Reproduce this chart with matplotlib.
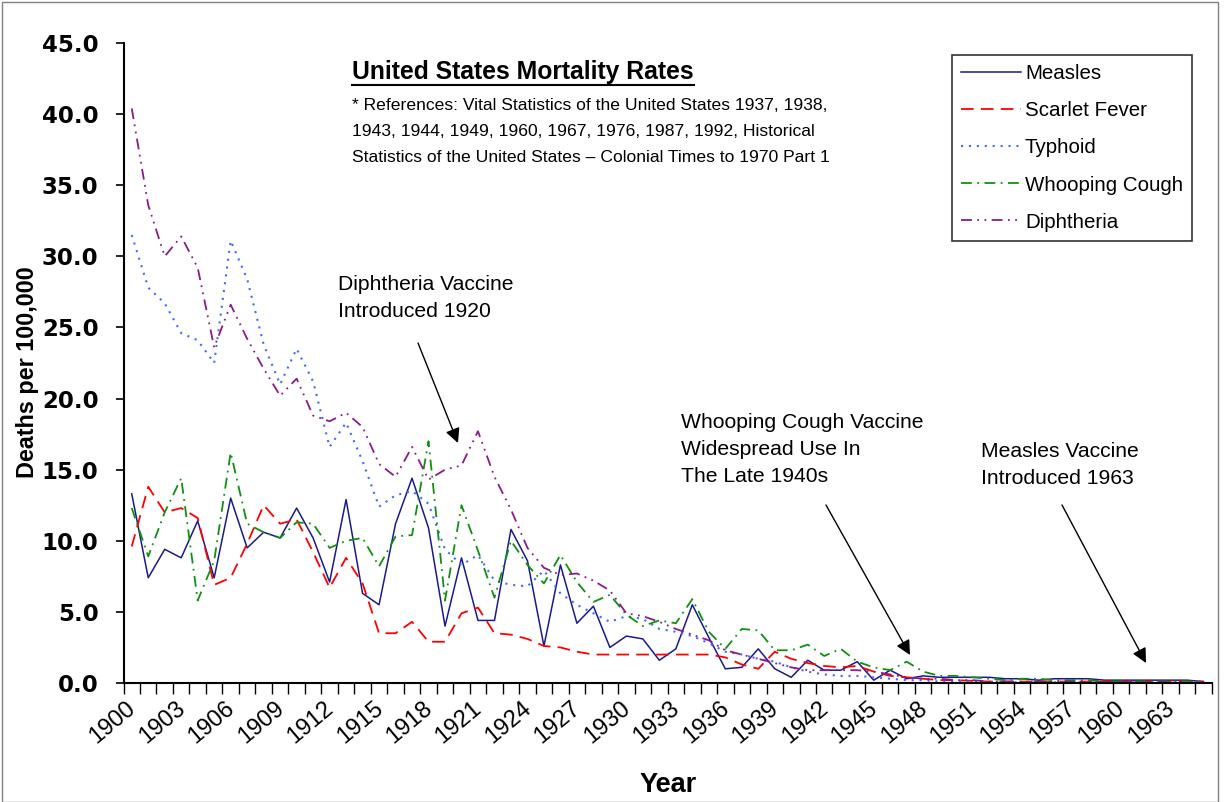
import matplotlib
matplotlib.use('Agg')
import matplotlib.pyplot as plt
from matplotlib.lines import Line2D
from matplotlib.transforms import ScaledTranslation
import numpy as np

plt.rcParams['font.family'] = ['Liberation Sans', 'DejaVu Sans']

years = list(range(1900, 1966))

measles = [13.3, 7.4, 9.4, 8.8, 11.4, 7.4, 13.0, 9.5, 10.6, 10.2,
           12.3, 10.2, 7.1, 12.9, 6.3, 5.5, 11.2, 14.4, 10.9, 4.0,
           8.8, 4.4, 4.4, 10.8, 8.6, 2.6, 8.3, 4.2, 5.4, 2.5,
           3.3, 3.1, 1.6, 2.4, 5.5, 3.2, 1.0, 1.1, 2.4, 1.0,
           0.4, 1.6, 0.9, 0.9, 1.5, 0.2, 0.9, 0.3, 0.5, 0.4,
           0.4, 0.4, 0.4, 0.3, 0.3, 0.2, 0.3, 0.3, 0.3, 0.2,
           0.2, 0.2, 0.2, 0.2, 0.2, 0.1]

scarlet_fever = [9.6, 13.8, 12.0, 12.3, 11.6, 6.9, 7.4, 9.8, 12.5, 11.2,
                 11.5, 9.2, 6.7, 8.8, 7.0, 3.5, 3.5, 4.3, 2.9, 2.9,
                 4.9, 5.3, 3.5, 3.4, 3.1, 2.6, 2.5, 2.2, 2.0, 2.0,
                 2.0, 2.0, 2.0, 2.0, 2.0, 2.0, 1.8, 1.3, 1.0, 2.2,
                 1.7, 1.4, 1.2, 1.1, 1.2, 0.8, 0.5, 0.4, 0.3, 0.2,
                 0.2, 0.15, 0.1, 0.1, 0.1, 0.1, 0.1, 0.1, 0.1, 0.1,
                 0.1, 0.1, 0.1, 0.1, 0.1, 0.1]

typhoid = [31.5, 27.8, 26.7, 24.6, 24.1, 22.5, 31.1, 28.4, 23.8, 21.0,
           23.5, 21.2, 16.6, 18.3, 15.6, 12.4, 13.2, 13.5, 12.6, 9.4,
           8.3, 9.0, 7.2, 6.9, 6.8, 7.9, 6.3, 5.5, 4.9, 4.3,
           4.7, 4.5, 3.8, 3.6, 3.3, 2.8, 2.2, 2.0, 1.7, 1.5,
           1.1, 0.8, 0.6, 0.5, 0.5, 0.4, 0.3, 0.2, 0.2, 0.1,
           0.1, 0.1, 0.05, 0.05, 0.05, 0.05, 0.05, 0.05, 0.0, 0.0,
           0.0, 0.0, 0.0, 0.0, 0.0, 0.0]

whooping_cough = [12.3, 8.9, 12.0, 14.4, 5.8, 8.6, 16.2, 11.2, 10.6, 10.2,
                  11.3, 11.2, 9.5, 10.0, 10.2, 8.2, 10.3, 10.4, 17.0, 5.8,
                  12.5, 9.3, 6.0, 10.0, 8.3, 7.0, 9.0, 7.1, 5.7, 6.2,
                  4.8, 4.0, 4.4, 4.2, 5.9, 3.6, 2.4, 3.8, 3.7, 2.3,
                  2.3, 2.7, 1.9, 2.4, 1.5, 1.1, 0.9, 1.5, 0.8, 0.5,
                  0.5, 0.4, 0.3, 0.2, 0.3, 0.3, 0.2, 0.2, 0.2, 0.1,
                  0.1, 0.1, 0.1, 0.1, 0.1, 0.1]

diphtheria = [40.4, 33.6, 30.0, 31.4, 29.2, 23.6, 26.6, 24.2, 22.1, 20.2,
              21.4, 18.8, 18.4, 19.0, 18.0, 15.4, 14.5, 16.6, 14.3, 15.0,
              15.3, 17.7, 14.5, 12.2, 9.5, 8.1, 7.6, 7.7, 7.2, 6.5,
              4.9, 4.7, 4.3, 3.8, 3.4, 3.0, 2.3, 2.0, 1.7, 1.4,
              1.1, 0.9, 0.9, 0.9, 0.9, 0.8, 0.6, 0.4, 0.3, 0.3,
              0.2, 0.2, 0.1, 0.1, 0.1, 0.1, 0.1, 0.1, 0.05, 0.05,
              0.05, 0.05, 0.05, 0.05, 0.0, 0.0]

series_names = ['Measles', 'Scarlet Fever', 'Typhoid', 'Whooping Cough', 'Diphtheria']
y_ticks = [0, 5, 10, 15, 20, 25, 30, 35, 40, 45]

fig = plt.figure(figsize=(12.25, 8.02), dpi=100)
W, H = 1225, 802
left, right, top, bottom = 123.5, 1211.7, 43, 683
ax = fig.add_axes([left / W, 1 - bottom / H, (right - left) / W, (bottom - top) / H])

x = np.arange(len(years))
styles = [
    dict(color='#1a1a8c', lw=1.1, ls='-'),
    dict(color='#ff0000', lw=1.3, ls=(0, (7, 4))),
    dict(color='#3c6cff', lw=1.5, ls=(0, (1, 2.8))),
    dict(color='#109010', lw=1.3, ls=(0, (6, 3, 1, 3))),
    dict(color='#8b1a8b', lw=1.3, ls=(0, (6, 3, 1, 3, 1, 3))),
]
data = [measles, scarlet_fever, typhoid, whooping_cough, diphtheria]
handles = []
for name, vals, st in zip(series_names, data, styles):
    h, = ax.plot(x, vals, label=name, **st)
    handles.append(h)

ax.set_xlim(-0.5, len(years) - 0.5)
ax.set_ylim(0, 45)
ax.set_yticks(y_ticks)
ax.set_yticklabels([f'{v:.1f}' for v in y_ticks], fontsize=16.5, fontweight='bold',
                   family='DejaVu Sans')
ax.tick_params(axis='y', direction='out', length=6, width=1.2, pad=12)

# tick marks at category boundaries, labels every third category
ax.set_xticks(np.arange(-0.5, len(years) + 0.5, 1.0))
ax.set_xticklabels([])
ax.tick_params(axis='x', which='major', direction='out', length=8, width=1.0)
ax.set_xticks(x[::3], minor=True)
ax.set_xticklabels([str(y) for y in years[::3]], minor=True, rotation=40,
                   ha='right', va='top', rotation_mode='anchor', fontsize=17)
ax.tick_params(axis='x', which='minor', length=0, pad=10)
shift = ScaledTranslation(-6 / 100, 0, fig.dpi_scale_trans)
for lbl in ax.get_xticklabels(minor=True):
    lbl.set_transform(lbl.get_transform() + shift)

for s in ['top', 'right']:
    ax.spines[s].set_visible(False)
for s in ['left', 'bottom']:
    ax.spines[s].set_linewidth(1.5)

fig.text(28 / W, 1 - 372 / H, 'Deaths per 100,000', fontsize=16.8, fontweight='bold',
         rotation=90, ha='center', va='center')
fig.text(668 / W, 1 - 785 / H, 'Year', fontsize=19.5, fontweight='bold', ha='center', va='center')

# Title and references
title = fig.text(352 / W, 1 - 72 / H, 'United States Mortality Rates', fontsize=17.8,
                 fontweight='bold', ha='left', va='center')
fig.text(352 / W, 1 - 98 / H,
         '* References: Vital Statistics of the United States 1937, 1938,\n'
         '1943, 1944, 1949, 1960, 1967, 1976, 1987, 1992, Historical\n'
         'Statistics of the United States \u2013 Colonial Times to 1970 Part 1',
         fontsize=12.6, ha='left', va='top', linespacing=1.9)

# Annotations (arrows)
arr_kw = dict(xycoords='figure pixels', textcoords='figure pixels',
              arrowprops=dict(arrowstyle='-|>', color='black', lw=1.0,
                              mutation_scale=22, shrinkA=0, shrinkB=0))
ax.annotate('', xy=(458, H - 443), xytext=(418, H - 343), **arr_kw)
ax.annotate('', xy=(910, H - 655), xytext=(826, H - 505), **arr_kw)
ax.annotate('', xy=(1146, H - 663), xytext=(1062, H - 505), **arr_kw)
txt_kw = dict(fontsize=15.2, ha='left', va='top', linespacing=1.55)
fig.text(338 / W, 1 - 275 / H, 'Diphtheria Vaccine\nIntroduced 1920', **txt_kw)
fig.text(681 / W, 1 - 413 / H, 'Whooping Cough Vaccine\nWidespread Use In\nThe Late 1940s', **txt_kw)
fig.text(981 / W, 1 - 442 / H, 'Measles Vaccine\nIntroduced 1963', **txt_kw)

leg = ax.legend(handles=handles, loc='upper left',
                bbox_to_anchor=((952 - left) / (right - left), (bottom - 55) / (bottom - top)),
                fontsize=14.8, frameon=True, fancybox=False, edgecolor='black',
                handlelength=2.9, handletextpad=0.2, labelspacing=0.88, borderpad=0.45,
                borderaxespad=0)
leg.get_frame().set_linewidth(1.2)

# outer border of chart area
fig.add_artist(plt.Rectangle((2 / W, 0.5 / H), 1216 / W, 800 / H, transform=fig.transFigure,
                             fill=False, edgecolor='#808080', lw=1.0))

# underline title
fig.canvas.draw()
bb = title.get_window_extent()
fig.add_artist(Line2D([bb.x0 / W, bb.x1 / W], [(bb.y0 - 1) / H, (bb.y0 - 1) / H],
                      transform=fig.transFigure, color='black', lw=1.5))

fig.savefig('out.png', dpi=100)
